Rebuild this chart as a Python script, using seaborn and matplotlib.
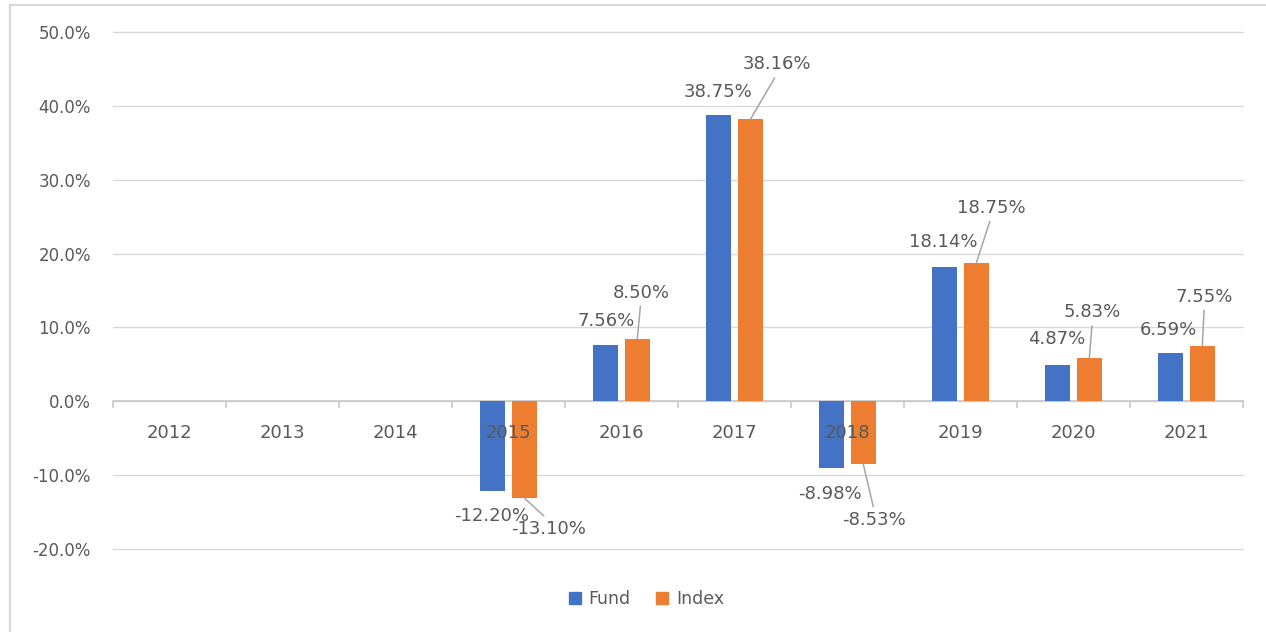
import numpy as np
import pandas as pd
import matplotlib
matplotlib.use("Agg")
import matplotlib.pyplot as plt
from matplotlib.lines import Line2D
from matplotlib.patches import Rectangle
import seaborn as sns

# ---- data ----
years = ["2012", "2013", "2014", "2015", "2016", "2017", "2018", "2019", "2020", "2021"]
fund = [np.nan, np.nan, np.nan, -12.20, 7.56, 38.75, -8.98, 18.14, 4.87, 6.59]
index = [np.nan, np.nan, np.nan, -13.10, 8.50, 38.16, -8.53, 18.75, 5.83, 7.55]
series_names = ["Fund", "Index"]
y_ticks = [-20, -10, 0, 10, 20, 30, 40, 50]

# label offsets (pixels) relative to bar end
fund_off = {"2015": (-1.5, -25), "2016": (0, 24), "2017": (-1, 23), "2018": (-2, -26),
            "2019": (-1, 25), "2020": (-1, 26), "2021": (-2, 23)}
index_off = {"2015": (24, -31), "2016": (3.5, 46), "2017": (27, 55), "2018": (11, -56),
             "2019": (15, 55), "2020": (3, 46), "2021": (2, 49)}

colors = ["#4472C4", "#ED7D31"]
txt = "#595959"
grid_c = "#d9d9d9"

rows = []
for y, f, i in zip(years, fund, index):
    if not np.isnan(f):
        rows.append({"Year": y, "Series": "Fund", "Return": f})
    if not np.isnan(i):
        rows.append({"Year": y, "Series": "Index", "Return": i})
df = pd.DataFrame(rows)

sns.set_style("white")
plt.rcParams["font.family"] = ["DejaVu Sans"]

W, H = 1266, 632
fig = plt.figure(figsize=(W / 100, H / 100), dpi=100)
fig.patch.set_facecolor("white")
ax = fig.add_axes([113 / W, 1 - 549 / H, (1243 - 113) / W, (549 - 32) / H])

sns.barplot(data=df, x="Year", y="Return", hue="Series", order=years,
            hue_order=series_names, palette=colors, width=0.56, gap=0.214,
            saturation=1, linewidth=0, errorbar=None, legend=False, ax=ax)

ax.set_xlim(-0.5, len(years) - 0.5)
ax.set_ylim(y_ticks[0], y_ticks[-1])
ax.set_yticks(y_ticks)
ax.set_yticklabels([f"{v:.1f}%" for v in y_ticks])
ax.yaxis.grid(True, color=grid_c, linewidth=1)
ax.set_axisbelow(False)
ax.yaxis.set_zorder(0.5)
ax.xaxis.set_zorder(3)
for gl in ax.get_ygridlines():
    gl.set_clip_on(False)
ax.set_xlabel("")
ax.set_ylabel("")

for s in ["left", "right", "top"]:
    ax.spines[s].set_visible(False)
ax.spines["bottom"].set_position(("data", 0))
ax.spines["bottom"].set_color("#c8c8c8")
ax.spines["bottom"].set_linewidth(1.2)
ax.spines["bottom"].set_zorder(0.6)

ax.tick_params(axis="y", length=0, pad=16, labelsize=12, labelcolor=txt)
ax.tick_params(axis="x", which="major", length=0, pad=16, labelsize=13, labelcolor=txt)
ax.set_xticks(np.arange(-0.5, len(years), 1.0), minor=True)
ax.tick_params(axis="x", which="minor", bottom=True, length=5, width=1.2,
               color="#c8c8c8", direction="out")

# data labels
for ci, (cont, offs, leader) in enumerate(zip(ax.containers, [fund_off, index_off], [False, True])):
    for p in cont.patches:
        h = p.get_height()
        if h is None or np.isnan(h) or h == 0:
            continue
        xc = p.get_x() + p.get_width() / 2
        k = int(round(xc))
        yr = years[k]
        val = fund[k] if ci == 0 else index[k]
        dx, dy = offs[yr]
        kw = {}
        if leader:
            rel = (0.5, 0.0) if val > 0 else (0.5, 1.0)
            kw["arrowprops"] = dict(arrowstyle="-", color="#a6a6a6", lw=1.1,
                                    shrinkA=1, shrinkB=0, relpos=rel)
        ax.annotate(f"{val:.2f}%", xy=(xc, val), xytext=(dx, dy),
                    textcoords="offset pixels", ha="center", va="center",
                    fontsize=13, color=txt, zorder=4, **kw)

# legend
handles = [Line2D([], [], marker="s", linestyle="", color=c, markersize=8) for c in colors]
fig.legend(handles, series_names, loc="center", bbox_to_anchor=(645 / W, 1 - 599 / H),
           ncol=2, frameon=False, fontsize=12.5, handletextpad=0.3, columnspacing=1.3,
           labelcolor=txt, handlelength=1.0)

# outer chart border
fig.patches.append(Rectangle((10 / W, -0.05), 1.2, 1.05 - 5 / H, transform=fig.transFigure,
                             fill=False, edgecolor=grid_c, linewidth=1.6, zorder=0))

fig.savefig("out.png", dpi=100)
